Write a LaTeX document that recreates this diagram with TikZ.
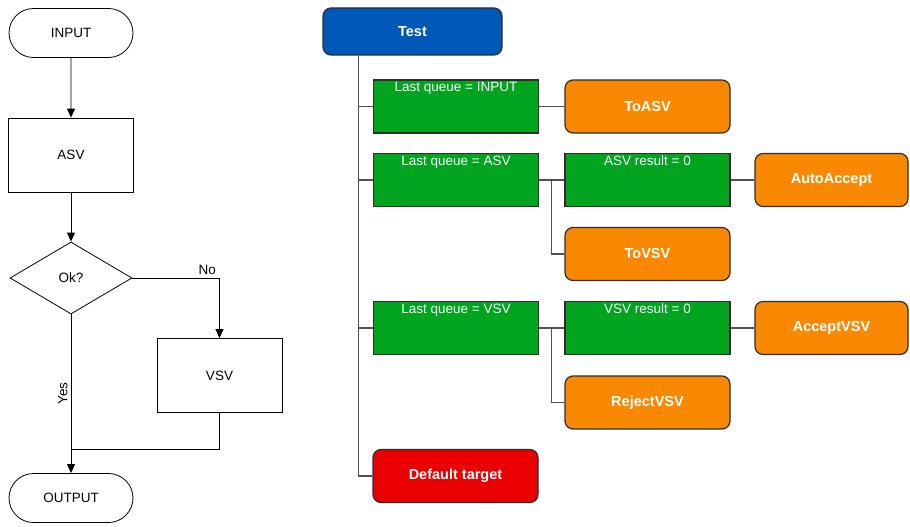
\documentclass[tikz,border=0pt]{standalone}
\usepackage{fontspec}
\setmainfont{Liberation Sans}
\usetikzlibrary{arrows.meta,shapes.geometric,shapes.misc}

\definecolor{testblue}{RGB}{0,88,184}
\definecolor{condgreen}{RGB}{0,164,30}
\definecolor{targetorange}{RGB}{250,136,0}
\definecolor{defred}{RGB}{234,0,0}
\definecolor{boxedge}{RGB}{45,45,45}
\definecolor{linegray}{RGB}{80,80,80}

\begin{document}
\begin{tikzpicture}[x=1pt,y=-1pt,
    flow/.style={draw, line width=0.8pt, inner sep=0pt,
      font=\fontsize{13.5}{16}\selectfont},
    term/.style={flow, rounded rectangle, minimum width=124pt, minimum height=49pt},
    proc/.style={flow, rectangle, minimum width=125pt, minimum height=74pt},
    decide/.style={flow, diamond, minimum width=122pt, minimum height=72pt},
    arr/.style={-{Triangle[length=9pt,width=8pt]}, line width=0.9pt},
    box/.style={draw=boxedge, line width=1.2pt, text=white, inner sep=0pt,
      minimum width=165pt, minimum height=53pt},
    cond/.style={box, fill=condgreen,
      label={[anchor=north, text=white, inner sep=3pt,
        font=\fontsize{13.5}{15}\selectfont]north:#1}},
    target/.style={box, rounded corners=8pt, fill=targetorange,
      font=\bfseries\fontsize{14.5}{17}\selectfont},
    link/.style={draw=linegray, line width=1.2pt}]

  \useasboundingbox (0,0) rectangle (910,527);

  % Left: the plain flowchart
  \node[term] (input) at (71,33) {INPUT};
  \node[proc] (asv) at (71,155) {ASV};
  \node[decide] (ok) at (71,278) {Ok?};
  \node[proc] (vsv) at (219.5,375.5) {VSV};
  \node[term] (output) at (71,498) {OUTPUT};
  \coordinate (join) at (71,449);

  \draw[arr] (input) -- (asv);
  \draw[arr] (asv) -- (ok);
  \draw[arr] (ok.east) -| node[above, pos=0.43, font=\fontsize{13.5}{16}\selectfont] {No} (vsv.north);
  \draw[arr] (ok.south) -- node[midway, above, rotate=90, inner sep=3pt,
    font=\fontsize{13.5}{16}\selectfont] {Yes} (output.north);
  \draw[line width=0.9pt] (vsv.south) |- (join);

  % Right: the same flow as a rule tree
  \node[box, fill=testblue, rounded corners=8pt, minimum width=179pt, minimum height=47pt,
    font=\bfseries\fontsize{14.5}{17}\selectfont] (test) at (412.5,31.5) {Test};
  \node[cond={Last queue = INPUT}] (q1) at (456,106.5) {};
  \node[cond={Last queue = ASV}] (q2) at (456,180) {};
  \node[cond={Last queue = VSV}] (q3) at (456,328) {};
  \node[target, fill=defred] (deflt) at (455.5,476) {Default target};

  \node[target] (toasv) at (647.5,106.5) {ToASV};
  \node[cond={ASV result = 0}] (res1) at (647.5,180) {};
  \node[target, minimum width=153pt] (autoacc) at (831.5,180) {AutoAccept};
  \node[target] (tovsv) at (647.5,254) {ToVSV};
  \node[cond={VSV result = 0}] (res2) at (647.5,328) {};
  \node[target, minimum width=153pt] (acceptvsv) at (831.5,328) {AcceptVSV};
  \node[target] (rejectvsv) at (647.5,402.5) {RejectVSV};

  % Trunk and branches
  \coordinate (trunk) at ([xshift=36pt]test.south west);
  \draw[link] (trunk) |- (deflt.west);
  \foreach \q in {q1,q2,q3}
    \draw[link] (trunk |- \q.west) -- (\q.west);

  \draw[link] (q1.east) -- (toasv.west);
  \draw[link] (q2.east) -- (res1.west);
  \draw[link] (res1.east) -- (autoacc.west);
  \draw[link] ([xshift=12pt]q2.east) |- (tovsv.west);
  \draw[link] (q3.east) -- (res2.west);
  \draw[link] (res2.east) -- (acceptvsv.west);
  \draw[link] ([xshift=12pt]q3.east) |- (rejectvsv.west);
\end{tikzpicture}
\end{document}
